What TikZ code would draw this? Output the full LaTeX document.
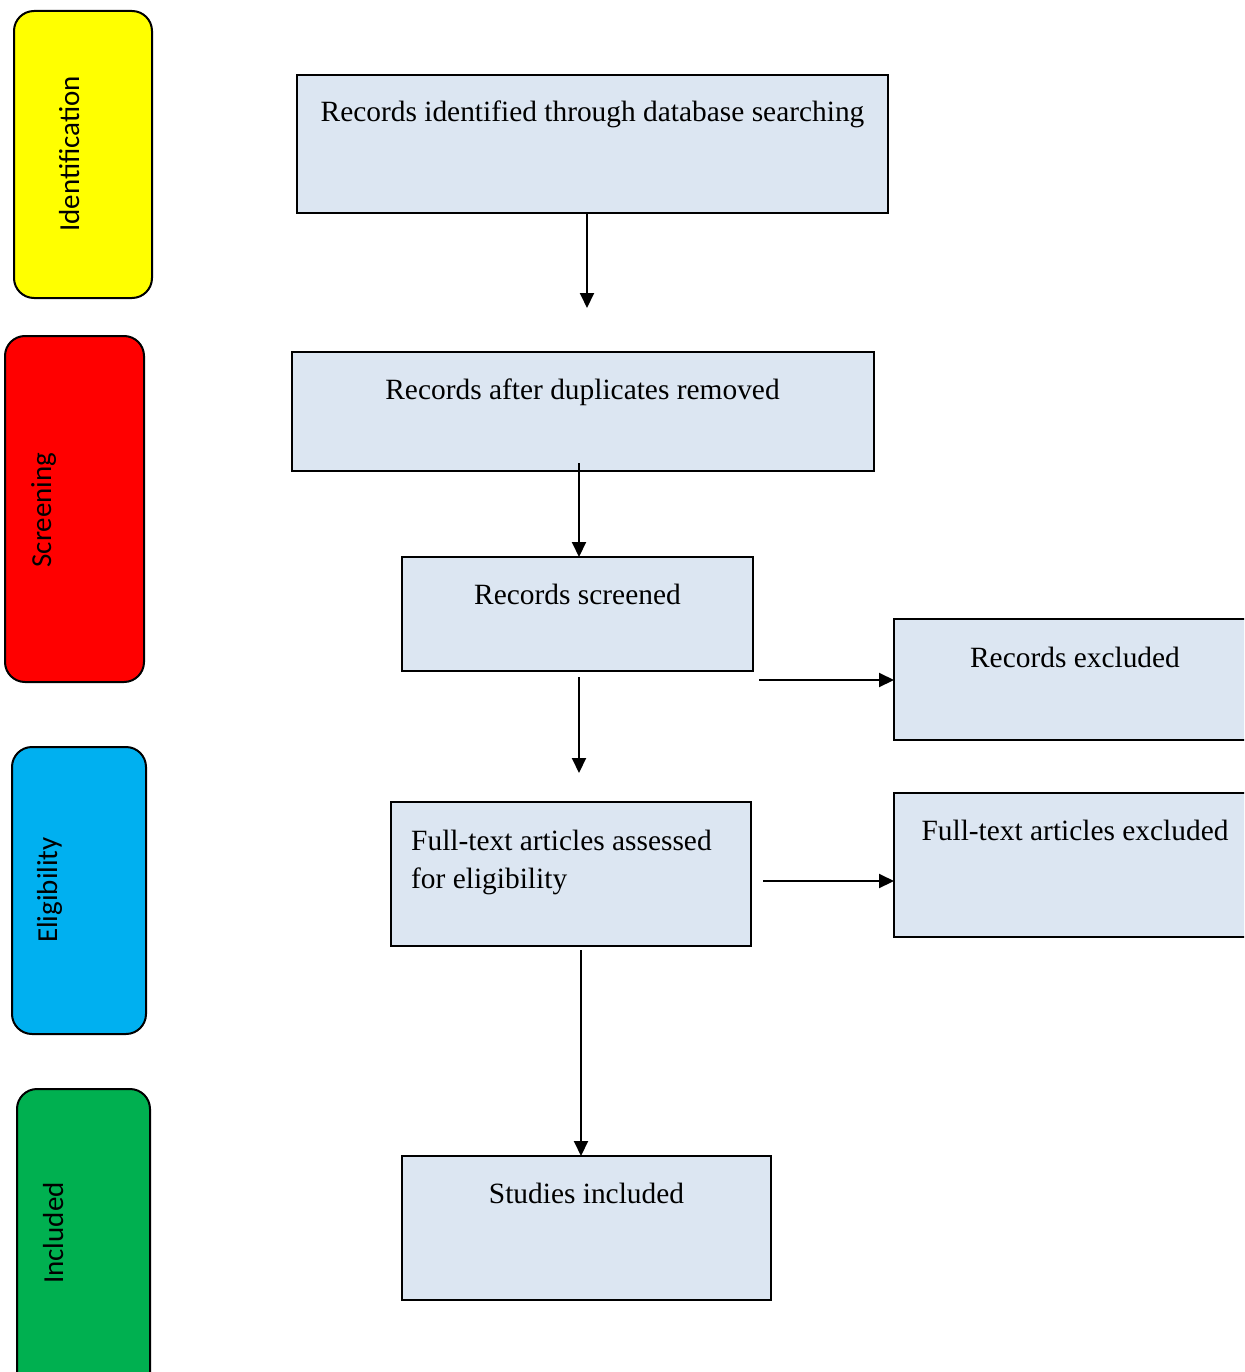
\documentclass[tikz,border=0pt]{standalone}
\usepackage{fontspec}
\setmainfont{Liberation Serif}
\newfontfamily\sidefont{Carlito}
\usetikzlibrary{arrows.meta}
\definecolor{boxblue}{RGB}{220,230,242}
\definecolor{stageyellow}{RGB}{255,255,0}
\definecolor{stagered}{RGB}{255,0,0}
\definecolor{stagecyan}{RGB}{0,176,240}
\definecolor{stagegreen}{RGB}{0,176,80}
\begin{document}
\begin{tikzpicture}[x=1pt,y=-1pt,
  stage/.style={draw=black, line width=2pt, rounded corners=20pt, anchor=north west, inner sep=0pt, outer sep=0pt},
  box/.style={draw=black, line width=2pt, fill=boxblue, anchor=north west, inner sep=0pt, outer sep=0pt},
  lbl/.style={font=\fontsize{29.4}{38}\selectfont, anchor=base, inner sep=0pt},
  slbl/.style={font=\sidefont\fontsize{29}{35}\selectfont, rotate=90, anchor=base, inner sep=0pt},
  arr/.style={line width=2pt, -{Triangle[length=15pt,width=14pt]}}]
\path[use as bounding box] (0,0) rectangle (1244,1372);
\clip (0,0) rectangle (1244,1372);

% stage bars
\node[stage, fill=stageyellow, minimum width=138pt, minimum height=287pt] (ident) at (14,11) {};
\node[stage, fill=stagered, minimum width=139pt, minimum height=346pt] (screen) at (5,336) {};
\node[stage, fill=stagecyan, minimum width=134pt, minimum height=287pt] (elig) at (12,747) {};
\node[stage, fill=stagegreen, minimum width=133pt, minimum height=320pt] (incl) at (17,1089) {};

\node[slbl] (identtxt) at (79,154) {Identification};
\node[slbl] (screentxt) at (51,510) {Screening};
\node[slbl] (eligtxt) at (57,890) {Eligibility};
\node[slbl] (incltxt) at (63,1233) {Included};

% boxes
\node[box, minimum width=591pt, minimum height=138pt] (b1) at (297,75) {};
\node[box, minimum width=582pt, minimum height=119pt] (b2) at (292,352) {};
\node[box, minimum width=351pt, minimum height=114pt] (b3) at (402,557) {};
\node[box, minimum width=362pt, minimum height=121pt] (b4) at (894,619) {};
\node[box, minimum width=360pt, minimum height=144pt] (b5) at (391,802) {};
\node[box, minimum width=362pt, minimum height=144pt] (b6) at (894,793) {};
\node[box, minimum width=369pt, minimum height=144pt] (b7) at (402,1156) {};

% box texts
\node[lbl] (t1) at (592.5,122) {Records identified through database searching};
\node[lbl] (t2) at (582.5,399) {Records after duplicates removed};
\node[lbl] (t3) at (577.5,604) {Records screened};
\node[lbl] (t4) at (1075,667) {Records excluded};
\node[lbl, anchor=base west] (t5a) at (411,850) {Full-text articles assessed};
\node[lbl, anchor=base west] (t5b) at (411,888) {for eligibility};
\node[lbl] (t6) at (1075,840) {Full-text articles excluded};
\node[lbl] (t7) at (586.5,1203) {Studies included};

% connector free ends
\coordinate (e1) at (587,308);
\coordinate (s2) at (579,463);
\coordinate (s3) at (579,677);
\coordinate (e3) at (579,773);
\coordinate (s4) at (759,680);
\coordinate (s5) at (763,881);
\coordinate (s6) at (581,950);

% connectors
\draw[arr] (e1 |- b1.south) -- (e1);
\draw[arr] (s2) -- (s2 |- b3.north);
\draw[arr] (s3) -- (e3);
\draw[arr] (s4) -- (s4 -| b4.west);
\draw[arr] (s5) -- (s5 -| b6.west);
\draw[arr] (s6) -- (s6 |- b7.north);
\end{tikzpicture}
\end{document}
